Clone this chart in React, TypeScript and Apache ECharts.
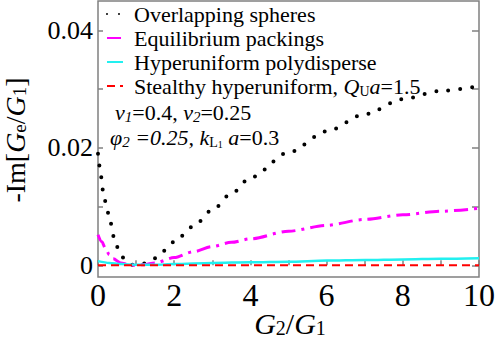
import React, { useEffect, useRef } from "react";
import * as echarts from "echarts";

const overlapX = [0, 0.05, 0.13, 0.21, 0.3, 0.42, 0.52, 0.68, 0.9, 1.2, 1.5, 1.75, 2.0, 2.5, 3.0, 3.5, 4.0, 5.0, 6.0, 7.0, 8.0, 9.0, 10];
const overlapY = [0.019, 0.0166, 0.0128, 0.0105, 0.008, 0.0048, 0.003, 0.0012, 0.0001, 0.0003, 0.0012, 0.0025, 0.004, 0.0066, 0.0094, 0.0122, 0.0149, 0.0192, 0.0228, 0.0257, 0.0283, 0.0297, 0.0305];

const equilX = [0, 0.1, 0.2, 0.3, 0.4, 0.6, 0.8, 1.0, 1.2, 1.5, 2.0, 2.5, 3.0, 3.5, 4.0, 5.0, 6.0, 7.0, 8.0, 9.0, 10];
const equilY = [0.0052, 0.004, 0.0028, 0.0018, 0.0011, 0.0004, 0.0001, 0.0, 0.0001, 0.0004, 0.0013, 0.0023, 0.0032, 0.0039, 0.0045, 0.0058, 0.0068, 0.0078, 0.0086, 0.0092, 0.0097];

const hyperX = [0, 0.3, 0.6, 1.0, 1.5, 2, 3, 4, 5, 6, 7, 8, 9, 10];
const hyperY = [0.0007, 0.0004, 0.0002, 0.0001, 0.0001, 0.0002, 0.0004, 0.0005, 0.0006, 0.0008, 0.0009, 0.001, 0.0011, 0.0012];

const stealthX = [0, 2, 4, 6, 8, 10];
const stealthY = [0, 0, 0, 0, 0, 0];

const seriesNames = [
  "Overlapping spheres",
  "Equilibrium packings",
  "Hyperuniform polydisperse",
  "Stealthy hyperuniform, QUa=1.5",
];

const xTickValues = [0, 1, 2, 3, 4, 5, 6, 7, 8, 9, 10];
const xTickLabels = [0, 2, 4, 6, 8, 10];
const yTickValues = [0, 0.01, 0.02, 0.03, 0.04];
const yTickLabels = [0, 0.02, 0.04];

const pairs = (xs: number[], ys: number[]) => xs.map((x, i) => [x, ys[i]]);

const SERIF = "Liberation Serif";
const FRAME = "#808080";

export default function App() {
  const ref = useRef<HTMLDivElement>(null);
  useEffect(() => {
    if (!ref.current) return;
    const chart = echarts.init(ref.current, null, { renderer: "svg" });
    const legendRich = {
      n: { fontFamily: SERIF, fontSize: 22, color: "#000", lineHeight: 24 },
      i: { fontFamily: SERIF, fontSize: 22, fontStyle: "italic", color: "#000", lineHeight: 24 },
      s: { fontFamily: SERIF, fontSize: 14, color: "#000", lineHeight: 4, verticalAlign: "bottom" },
    };
    const annRich = {
      n: { fontFamily: SERIF, fontSize: 22, color: "#000", lineHeight: 24 },
      i: { fontFamily: SERIF, fontSize: 22, fontStyle: "italic", color: "#000", lineHeight: 24 },
      s: { fontFamily: SERIF, fontSize: 15, fontStyle: "italic", color: "#000", lineHeight: 2, verticalAlign: "bottom" },
      su: { fontFamily: SERIF, fontSize: 14, color: "#000", lineHeight: 8, verticalAlign: "bottom" },
      ss: { fontFamily: SERIF, fontSize: 10, color: "#000", lineHeight: 0, verticalAlign: "bottom" },
    };
    const xTitleRich = {
      n: { fontFamily: SERIF, fontSize: 30, color: "#000", lineHeight: 30 },
      i: { fontFamily: SERIF, fontSize: 30, fontStyle: "italic", color: "#000", lineHeight: 30 },
      s: { fontFamily: SERIF, fontSize: 20, color: "#000", lineHeight: 4, verticalAlign: "bottom" },
    };
    const yTitleRich = {
      n: { fontFamily: SERIF, fontSize: 28, color: "#000", lineHeight: 28 },
      i: { fontFamily: SERIF, fontSize: 28, fontStyle: "italic", color: "#000", lineHeight: 28 },
      s: { fontFamily: SERIF, fontSize: 19, color: "#000", lineHeight: 4, verticalAlign: "bottom" },
    };
    chart.setOption({
      animation: false,
      backgroundColor: "#fff",
      grid: {
        left: 98,
        top: 1,
        width: 383,
        height: 276,
        show: true,
        borderColor: FRAME,
        borderWidth: 1.5,
        backgroundColor: "transparent",
      },
      legend: {
        left: 106,
        top: 2,
        orient: "vertical",
        itemWidth: 16,
        itemHeight: 14,
        itemGap: 0,
        padding: 0,
        data: seriesNames,
        itemStyle: { color: "rgba(0,0,0,0)", borderWidth: 0, opacity: 0 },
        textStyle: {
          fontFamily: SERIF,
          fontSize: 22,
          color: "#000",
          lineHeight: 24,
          padding: [0, 0, 0, 6],
          rich: legendRich,
        },
        formatter: (name: string) => {
          if (name.startsWith("Stealthy")) {
            return "{n|Stealthy hyperuniform, }{i|Q}{s|U}{i|a}{n|=1.5}";
          }
          return "{n|" + name + "}";
        },
      },
      xAxis: {
        type: "value",
        min: 0,
        max: 10,
        interval: 1,
        axisLine: { show: false },
        splitLine: { show: false },
        axisTick: {
          show: true,
          inside: true,
          length: 5,
          customValues: xTickValues,
          lineStyle: { color: FRAME, width: 1.5 },
        },
        axisLabel: {
          customValues: xTickLabels,
          fontFamily: SERIF,
          fontSize: 32,
          color: "#000",
          margin: 2,
          formatter: (v: number) => String(v),
        },
      },
      yAxis: [
        {
          type: "value",
          min: -0.002,
          max: 0.045,
          position: "left",
          axisLine: { show: false },
          splitLine: { show: false },
          axisTick: {
            show: true,
            inside: true,
            length: 5,
            customValues: yTickValues,
            lineStyle: { color: FRAME, width: 1.5 },
          },
          axisLabel: {
            customValues: yTickLabels,
            fontFamily: SERIF,
            fontSize: 26,
            color: "#000",
            margin: 5,
            formatter: (v: number) => (v === 0 ? "0" : v.toFixed(2)),
          },
        },
        {
          type: "value",
          min: -0.002,
          max: 0.045,
          position: "right",
          axisLine: { show: false },
          splitLine: { show: false },
          axisTick: {
            show: true,
            inside: true,
            length: 7,
            customValues: yTickValues,
            lineStyle: { color: FRAME, width: 1.5 },
          },
          axisLabel: { show: false },
        },
      ],
      series: [
        {
          name: seriesNames[0],
          type: "line",
          data: pairs(overlapX, overlapY),
          symbol: "none",
          smooth: 0.3,
          smoothMonotone: "x",
          lineStyle: { color: "#000", width: 4, type: [0, 12], cap: "round" },
          itemStyle: { color: "#000" },
        },
        {
          name: seriesNames[1],
          type: "line",
          data: pairs(equilX, equilY),
          symbol: "none",
          smooth: 0.3,
          smoothMonotone: "x",
          lineStyle: { color: "#ff00ff", width: 3, type: [14, 6, 3, 6] },
          itemStyle: { color: "#ff00ff" },
        },
        {
          name: seriesNames[2],
          type: "line",
          data: pairs(hyperX, hyperY),
          symbol: "none",
          smooth: 0.3,
          smoothMonotone: "x",
          lineStyle: { color: "#22f0f0", width: 2.5, type: "solid" },
          itemStyle: { color: "#22f0f0" },
        },
        {
          name: seriesNames[3],
          type: "line",
          data: pairs(stealthX, stealthY),
          symbol: "none",
          lineStyle: { color: "#ff0000", width: 2, type: [8, 5] },
          itemStyle: { color: "#ff0000" },
        },
      ],
      graphic: [
        {
          type: "text",
          x: 115,
          y: 112,
          style: {
            text: "{i|ν}{s|1}{n|=0.4, }{i|ν}{s|2}{n|=0.25}",
            rich: annRich,
            verticalAlign: "middle",
            align: "left",
          },
        },
        {
          type: "text",
          x: 110,
          y: 137,
          style: {
            text: "{i|φ}{s|2}{i| =0.25, k}{su|L}{ss|1}{i| a}{n|=0.3}",
            rich: annRich,
            verticalAlign: "middle",
            align: "left",
          },
        },
        {
          type: "text",
          x: 290,
          y: 323,
          style: {
            text: "{i|G}{s|2}{n|/}{i|G}{s|1}",
            rich: xTitleRich,
            align: "center",
            verticalAlign: "middle",
          },
        },
        {
          type: "text",
          x: 15,
          y: 140,
          rotation: Math.PI / 2,
          style: {
            text: "{n|-Im[}{i|G}{s|e}{n|/}{i|G}{s|1}{n|]}",
            rich: yTitleRich,
            align: "center",
            verticalAlign: "middle",
          },
        },
      ],
    });
    return () => chart.dispose();
  }, []);
  return (
    <div
      ref={ref}
      style={{ position: "fixed", left: 0, top: 0, width: 498, height: 346 }}
    />
  );
}
